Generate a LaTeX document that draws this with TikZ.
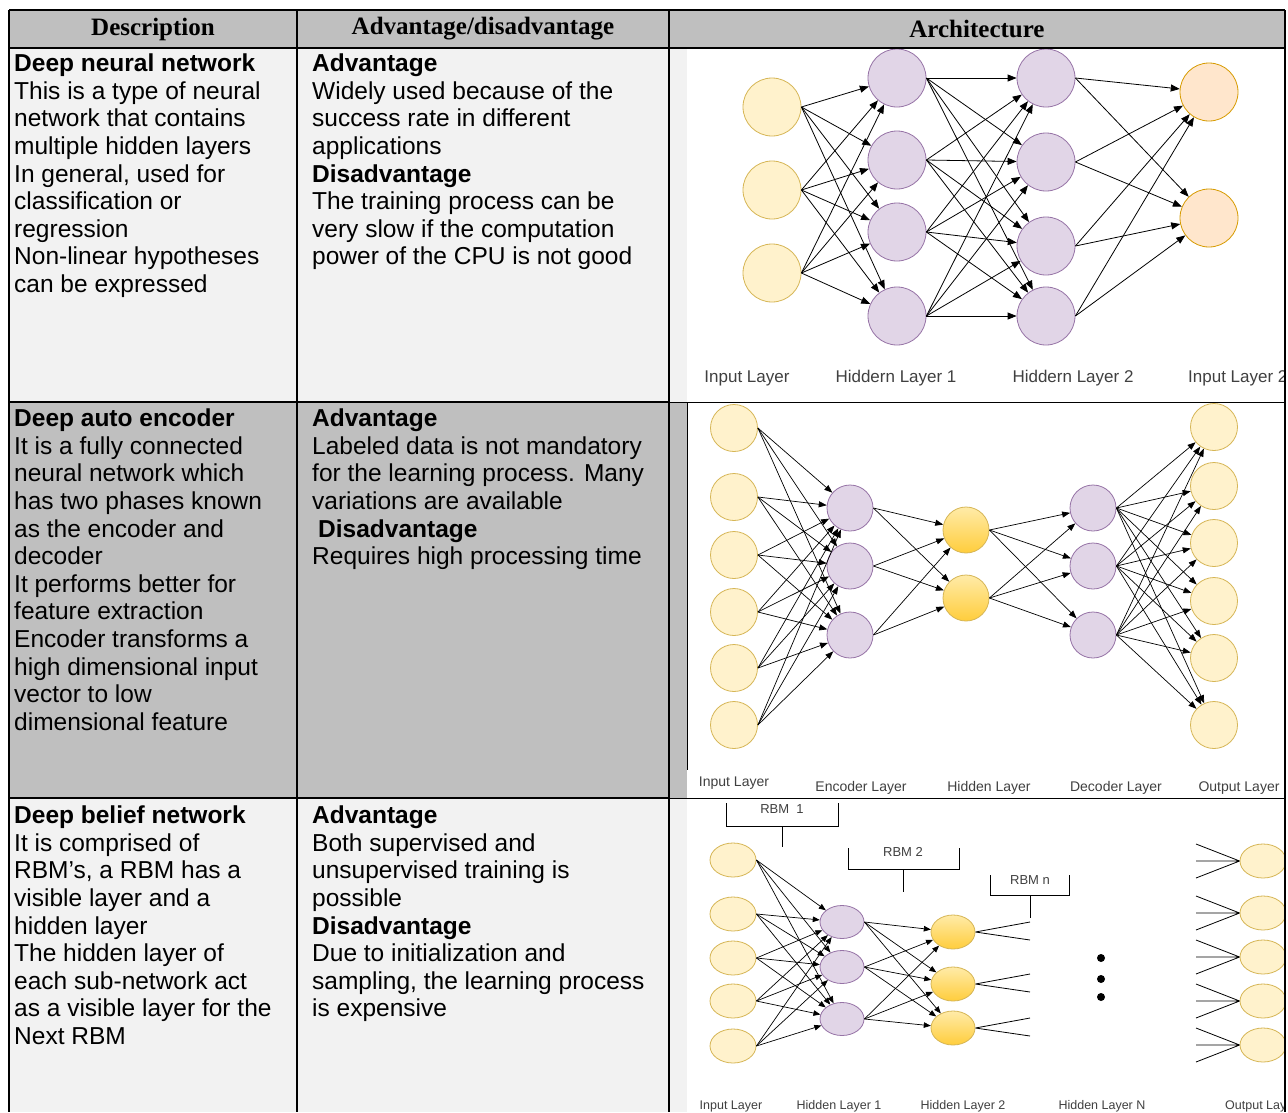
\documentclass[tikz,border=0pt]{standalone}
\usepackage{fontspec}
\setmainfont{Liberation Serif}
\setsansfont{Liberation Sans}
\usetikzlibrary{arrows.meta,shapes.geometric}

\definecolor{headgray}{HTML}{BFBFBF}
\definecolor{rowlight}{HTML}{F2F2F2}
\definecolor{rowdark}{HTML}{BFBFBF}
\definecolor{yelfill}{HTML}{FFF2CC}
\definecolor{yelline}{HTML}{D6B656}
\definecolor{purfill}{HTML}{E1D5E7}
\definecolor{purline}{HTML}{9673A6}
\definecolor{orafill}{HTML}{FFE6CC}
\definecolor{oraline}{HTML}{D79B00}
\definecolor{goldtop}{HTML}{FFEBA8}
\definecolor{goldbot}{HTML}{FFCD3C}
\definecolor{labelgray}{HTML}{404040}

\begin{document}
\begin{tikzpicture}[x=1pt,y=-1pt,
	cell/.style={anchor=north west,align=left,inner sep=0pt,
		font=\sffamily\fontsize{24.5}{27.6}\selectfont},
	headcell/.style={inner sep=0pt,font=\bfseries\fontsize{25}{27}\selectfont}]
	\tikzstyle{rule} = [line width=2.5pt]
	\tikzstyle{thinrule} = [line width=1pt]
	\tikzstyle{yel} = [circle,draw=yelline,fill=yelfill,line width=0.8pt,inner sep=0pt]
	\tikzstyle{pur} = [circle,draw=purline,fill=purfill,line width=0.8pt,inner sep=0pt]
	\tikzstyle{ora} = [circle,draw=oraline,fill=orafill,line width=0.8pt,inner sep=0pt]
	\tikzstyle{gold} = [circle,draw=yelline,top color=goldtop,bottom color=goldbot,line width=0.8pt,inner sep=0pt]
	\tikzstyle{layerlabel} = [text=labelgray,inner sep=0pt,font=\sffamily]
	\tikzstyle{dlink} = [-{Triangle[length=9pt,width=7pt]},line width=0.8pt]
	\tikzstyle{alink} = [-{Triangle[length=8pt,width=6pt]},line width=0.7pt]
	\tikzstyle{blink} = [-{Triangle[length=7pt,width=5.5pt]},line width=0.7pt]
	\tikzstyle{stub} = [line width=0.8pt]
	\useasboundingbox (0,0) rectangle (1288,1112);

	% backgrounds
	\fill[headgray] (9,10) rectangle (1285,48);
	\fill[rowlight] (9,48) rectangle (687,402);
	\fill[rowdark] (9,402) rectangle (687,798);
	\fill[rowlight] (9,798) rectangle (687,1112);
	\fill[white] (687,48) rectangle (1285,1112);

	% header
	\node[headcell] (hdesc) at (153,29) {Description};
	\node[headcell] (hadv) at (483,29) {Advantage/disadvantage};
	\node[headcell] (harch) at (977,29) {Architecture};

	% row 1
	\node[cell] (desc1) at (14,52.2) {\strut\textbf{Deep neural network}\\
		This is a type of neural\\
		network that contains\\
		multiple hidden layers\\
		In general, used for\\
		classification or\\
		regression\\
		Non-linear hypotheses\\
		can be expressed};
	\node[cell] (adv1) at (312,52.2) {\strut\textbf{Advantage}\\
		Widely used because of the\\
		success rate in different\\
		applications\\
		\textbf{Disadvantage}\\
		The training process can be\\
		very slow if the computation\\
		power of the CPU is not good};

	% row 2
	\node[cell] (desc2) at (14,407.2) {\strut\textbf{Deep auto encoder}\\
		It is a fully connected\\
		neural network which\\
		has two phases known\\
		as the encoder and\\
		decoder\\
		It performs better for\\
		feature extraction\\
		Encoder transforms a\\
		high dimensional input\\
		vector to low\\
		dimensional feature};
	\node[cell] (adv2) at (312,407.2) {\strut\textbf{Advantage}\\
		Labeled data is not mandatory\\
		for the learning process. Many\\
		variations are available\\
		\hspace*{6pt}\textbf{Disadvantage}\\
		Requires high processing time};

	% row 3
	\node[cell] (desc3) at (14,804.2) {\strut\textbf{Deep belief network}\\
		It is comprised of\\
		RBM’s, a RBM has a\\
		visible layer and a\\
		hidden layer\\
		The hidden layer of\\
		each sub-network act\\
		as a visible layer for the\\
		Next RBM};
	\node[cell] (adv3) at (312,804.2) {\strut\textbf{Advantage}\\
		Both supervised and\\
		unsupervised training is\\
		possible\\
		\textbf{Disadvantage}\\
		Due to initialization and\\
		sampling, the learning process\\
		is expensive};

	% deep neural network
	\begin{scope}
		\clip (687,48) rectangle (1284,402);
		\node[yel,minimum size=58pt] (di1) at (772,107) {};
		\node[yel,minimum size=58pt] (di2) at (772,190) {};
		\node[yel,minimum size=58pt] (di3) at (772,273) {};
		\node[pur,minimum size=58pt] (dh1) at (897,78) {};
		\node[pur,minimum size=58pt] (dh2) at (897,160) {};
		\node[pur,minimum size=58pt] (dh3) at (897,232) {};
		\node[pur,minimum size=58pt] (dh4) at (897,316) {};
		\node[pur,minimum size=58pt] (dg1) at (1046,78) {};
		\node[pur,minimum size=58pt] (dg2) at (1046,162) {};
		\node[pur,minimum size=58pt] (dg3) at (1046,246) {};
		\node[pur,minimum size=58pt] (dg4) at (1046,316) {};
		\node[ora,minimum size=58pt] (do1) at (1209,92) {};
		\node[ora,minimum size=58pt] (do2) at (1209,218) {};
		\foreach \s in {1,2,3}
			\foreach \t in {1,...,4}
				\draw[dlink] (di\s.east) -- (dh\t);
		\foreach \s in {1,...,4}
			\foreach \t in {1,...,4}
				\draw[dlink] (dh\s.east) -- (dg\t);
		\foreach \s in {1,...,4}
			\foreach \t in {1,2}
				\draw[dlink] (dg\s.east) -- (do\t);
		\node[layerlabel,font=\sffamily\fontsize{17}{19}\selectfont] (dl1) at (747,378) {Input Layer};
		\node[layerlabel,font=\sffamily\fontsize{17}{19}\selectfont] (dl2) at (896,378) {Hiddern Layer 1};
		\node[layerlabel,font=\sffamily\fontsize{17}{19}\selectfont] (dl3) at (1073,378) {Hiddern Layer 2};
		\node[layerlabel,anchor=west,font=\sffamily\fontsize{17}{19}\selectfont] (dl4) at (1188,378) {Input Layer 2};
	\end{scope}

	% deep auto encoder
	\node[yel,minimum size=47pt] (ai1) at (734,428) {};
	\node[yel,minimum size=47pt] (ai2) at (734,497) {};
	\node[yel,minimum size=47pt] (ai3) at (734,555) {};
	\node[yel,minimum size=47pt] (ai4) at (734,612) {};
	\node[yel,minimum size=47pt] (ai5) at (734,668) {};
	\node[yel,minimum size=47pt] (ai6) at (734,725) {};
	\node[pur,minimum size=46pt] (ae1) at (850,508) {};
	\node[pur,minimum size=46pt] (ae2) at (850,566) {};
	\node[pur,minimum size=46pt] (ae3) at (850,635) {};
	\node[gold,minimum size=46pt] (ah1) at (966,530) {};
	\node[gold,minimum size=46pt] (ah2) at (966,598) {};
	\node[pur,minimum size=46pt] (ad1) at (1093,508) {};
	\node[pur,minimum size=46pt] (ad2) at (1093,566) {};
	\node[pur,minimum size=46pt] (ad3) at (1093,635) {};
	\node[yel,minimum size=47pt] (ao1) at (1214,427) {};
	\node[yel,minimum size=47pt] (ao2) at (1214,486) {};
	\node[yel,minimum size=47pt] (ao3) at (1214,543) {};
	\node[yel,minimum size=47pt] (ao4) at (1214,601) {};
	\node[yel,minimum size=47pt] (ao5) at (1214,658) {};
	\node[yel,minimum size=47pt] (ao6) at (1214,725) {};
	\foreach \s in {1,...,6}
		\foreach \t in {1,2,3}
			\draw[alink] (ai\s.east) -- (ae\t);
	\foreach \s in {1,2,3}
		\foreach \t in {1,2}
			\draw[alink] (ae\s.east) -- (ah\t);
	\foreach \s in {1,2}
		\foreach \t in {1,2,3}
			\draw[alink] (ah\s.east) -- (ad\t);
	\foreach \s in {1,2,3}
		\foreach \t in {1,...,6}
			\draw[alink] (ad\s.east) -- (ao\t);
	\node[layerlabel,font=\sffamily\fontsize{14}{16}\selectfont] (al1) at (734,783) {Input Layer};
	\node[layerlabel,font=\sffamily\fontsize{14}{16}\selectfont] (al2) at (861,788) {Encoder Layer};
	\node[layerlabel,font=\sffamily\fontsize{14}{16}\selectfont] (al3) at (989,788) {Hidden Layer};
	\node[layerlabel,font=\sffamily\fontsize{14}{16}\selectfont] (al4) at (1116,788) {Decoder Layer};
	\node[layerlabel,font=\sffamily\fontsize{14}{16}\selectfont] (al5) at (1239,788) {Output Layer};

	% deep belief network
	\begin{scope}
		\clip (687,798) rectangle (1284,1112);
		\tikzstyle{oval} = [ellipse,minimum width=46pt,minimum height=34pt]
		\node[yel,oval] (bi1) at (733,860) {};
		\node[yel,oval] (bi2) at (733,914) {};
		\node[yel,oval] (bi3) at (733,958) {};
		\node[yel,oval] (bi4) at (733,1001) {};
		\node[yel,oval] (bi5) at (733,1046) {};
		\node[pur,oval,minimum width=44pt,minimum height=33pt] (bh1) at (842,922) {};
		\node[pur,oval,minimum width=44pt,minimum height=33pt] (bh2) at (842,967) {};
		\node[pur,oval,minimum width=44pt,minimum height=33pt] (bh3) at (842,1019) {};
		\node[gold,oval,minimum width=44pt] (bg1) at (953,932) {};
		\node[gold,oval,minimum width=44pt] (bg2) at (953,984) {};
		\node[gold,oval,minimum width=44pt] (bg3) at (953,1028) {};
		\node[yel,oval] (bo1) at (1263,861) {};
		\node[yel,oval] (bo2) at (1263,913) {};
		\node[yel,oval] (bo3) at (1263,957) {};
		\node[yel,oval] (bo4) at (1263,1001) {};
		\node[yel,oval] (bo5) at (1263,1045) {};
		\foreach \s in {1,...,5}
			\foreach \t in {1,2,3}
				\draw[blink] (bi\s.east) -- (bh\t);
		\foreach \s in {1,2,3}
			\foreach \t in {1,2,3}
				\draw[blink] (bh\s.east) -- (bg\t);
		% loose ends towards layer N
		\foreach \k/\y in {1/932,2/984,3/1028}{
			\coordinate (bsa\k) at (1030,\y-10);
			\coordinate (bsb\k) at (1030,\y+8);
			\draw[stub] (bg\k.east) -- (bsa\k) (bg\k.east) -- (bsb\k);
		}
		% loose ends into the output layer
		\foreach \k/\y in {1/861,2/913,3/957,4/1001,5/1045}{
			\coordinate (bfa\k) at (1196,\y-17);
			\coordinate (bfb\k) at (1196,\y);
			\coordinate (bfc\k) at (1196,\y+17);
			\draw[stub] (bfa\k) -- (bo\k.west) (bfb\k) -- (bo\k.west) (bfc\k) -- (bo\k.west);
		}
		\fill (1101,958) circle (4pt) (1101,979) circle (4pt) (1101,997) circle (4pt);
		% RBM brackets
		\draw[stub] (726,803) |- (838,826) -- (838,803);
		\draw[stub] (782,826) -- (782,847);
		\node[layerlabel,font=\sffamily\fontsize{13}{15}\selectfont] (rbm1) at (782,809) {RBM\ \ 1};
		\draw[stub] (848,848) |- (959,869) -- (959,848);
		\draw[stub] (903,869) -- (903,892);
		\node[layerlabel,font=\sffamily\fontsize{13}{15}\selectfont] (rbm2) at (903,852) {RBM 2};
		\draw[stub] (990,875) |- (1069,895) -- (1069,875);
		\draw[stub] (1030,895) -- (1030,918);
		\node[layerlabel,font=\sffamily\fontsize{13}{15}\selectfont] (rbmn) at (1030,880) {RBM n};
		\node[layerlabel,font=\sffamily\fontsize{12.5}{14}\selectfont] (bl1) at (731,1106) {Input Layer};
		\node[layerlabel,font=\sffamily\fontsize{12.5}{14}\selectfont] (bl2) at (839,1106) {Hidden Layer 1};
		\node[layerlabel,font=\sffamily\fontsize{12.5}{14}\selectfont] (bl3) at (963,1106) {Hidden Layer 2};
		\node[layerlabel,font=\sffamily\fontsize{12.5}{14}\selectfont] (bl4) at (1102,1106) {Hidden Layer N};
		\node[layerlabel,anchor=west,font=\sffamily\fontsize{12.5}{14}\selectfont] (bl5) at (1225,1106) {Output Layer};
	\end{scope}

	% table rules
	\draw[rule] (9,10) -- (1285,10);
	\draw[rule] (9,48) -- (1285,48);
	\draw[rule] (9,402) -- (669,402);
	\draw[thinrule] (669,402) -- (1285,402);
	\draw[rule] (9,798) -- (669,798);
	\draw[thinrule] (669,798) -- (1285,798);
	\draw[thinrule] (687,402) -- (687,770);
	\draw[rule] (9,10) -- (9,1112);
	\draw[rule] (297,10) -- (297,1112);
	\draw[rule] (669,10) -- (669,1112);
	\draw[rule] (1285,10) -- (1285,1112);
\end{tikzpicture}
\end{document}
